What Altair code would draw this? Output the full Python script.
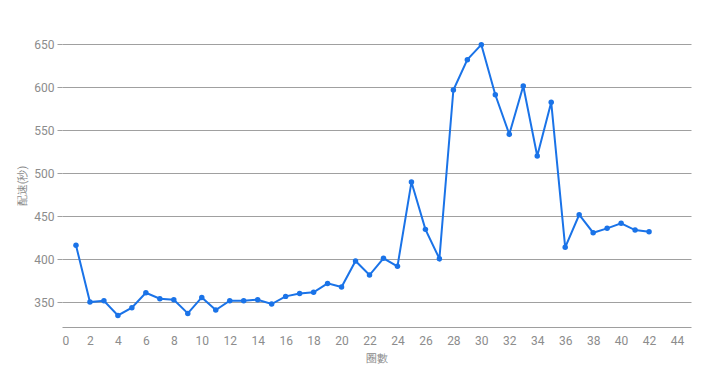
import altair as alt
import pandas as pd

laps = list(range(1, 43))
pace = [416, 350, 351.5, 334.5, 343.4, 360.8, 353.9, 352.7, 336.8, 355.4,
        340.7, 351.5, 351.5, 352.7, 347.7, 356.6, 360, 361.3, 371.7, 367.4,
        397.7, 381.4, 400.8, 391.5, 489.5, 434.5, 400.4, 596.5, 631.8, 649.2,
        591, 545, 601.2, 519.8, 582.2, 413.6, 451.5, 430.6, 435.7, 441.5,
        433.7, 431.8]
x_ticks = list(range(0, 45, 2))
y_ticks = [350, 400, 450, 500, 550, 600, 650]

df = pd.DataFrame({"lap": laps, "pace": pace})

FONT = "Roboto"
GRAY = "#8c8c8c"

chart = alt.Chart(df).mark_line(
    color="#1a73e8", strokeWidth=2,
    point=alt.OverlayMarkDef(color="#1a73e8", size=30, filled=True, opacity=1)
).encode(
    x=alt.X("lap:Q", title="圈數",
            scale=alt.Scale(domain=[0, 45], nice=False, zero=False),
            axis=alt.Axis(values=x_ticks, grid=False, ticks=False,
                          domainColor="#9e9e9e", labelPadding=8,
                          titlePadding=6)),
    y=alt.Y("pace:Q", title="配速(秒)",
            scale=alt.Scale(domain=[321, 650], nice=False, zero=False),
            axis=alt.Axis(values=y_ticks, domain=False, ticks=True,
                          tickSize=5, tickColor="#a0a0a0",
                          gridColor="#a0a0a0", labelPadding=3,
                          titlePadding=6)),
).properties(
    width=629, height=283,
    autosize=alt.AutoSizeParams(type="none"),
    padding={"left": 54, "top": 36, "right": 9, "bottom": 40},
).configure_axis(
    labelFont=FONT, titleFont=FONT, labelColor=GRAY, titleColor=GRAY,
    labelFontSize=12, titleFontSize=11, titleFontWeight="normal",
).configure_view(stroke=None)

chart.save("out.html", embed_options={"renderer": "svg", "actions": False})
